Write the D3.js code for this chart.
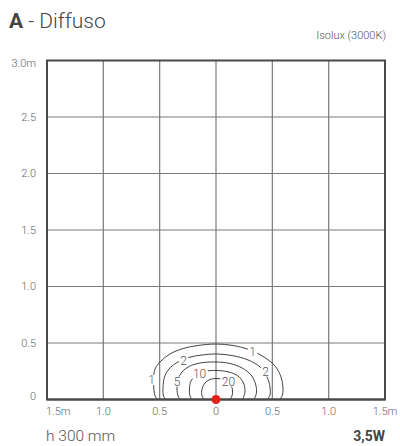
<!DOCTYPE html>
<html><head><meta charset="utf-8">
<script src="https://cdn.jsdelivr.net/npm/d3@7"></script>
<style>
html,body{margin:0;padding:0;background:#fff;}
svg{display:block;font-family:Roboto,"Liberation Sans",sans-serif;}
</style></head>
<body>
<script>
// ---- data ----
const xTicks = [-1.5, -1.0, -0.5, 0, 0.5, 1.0, 1.5];
const xTickLabels = ["1.5m", "1.0", "0.5", "0", "0.5", "1.0", "1.5m"];
const yTicks = [0, 0.5, 1.0, 1.5, 2.0, 2.5, 3.0];
const yTickLabels = ["0", "0.5", "1.0", "1.5", "2.0", "2.5", "3.0m"];
const levels = [1, 2, 5, 10, 20];
const contour1 = [[-0.515,0],[-0.541,0.031],[-0.550,0.084],[-0.555,0.173],[-0.541,0.270],[-0.488,0.341],[-0.408,0.403],[-0.293,0.451],[-0.160,0.478],[0,0.491],[0.151,0.478],[0.302,0.438],[0.426,0.376],[0.524,0.296],[0.577,0.199],[0.595,0.093],[0.590,0.040],[0.568,0]];
const contour2 = [[-0.444,0],[-0.466,0.031],[-0.470,0.111],[-0.457,0.199],[-0.417,0.270],[-0.346,0.327],[-0.240,0.372],[-0.124,0.394],[0,0.403],[0.142,0.389],[0.284,0.350],[0.391,0.288],[0.453,0.199],[0.479,0.111],[0.479,0.040],[0.457,0]];
const contour5 = [[-0.315,0],[-0.337,0.031],[-0.346,0.102],[-0.337,0.181],[-0.302,0.243],[-0.240,0.292],[-0.142,0.323],[0,0.332],[0.124,0.319],[0.231,0.279],[0.311,0.217],[0.351,0.137],[0.359,0.058],[0.337,0]];
const contour10 = [[-0.209,0],[-0.231,0.031],[-0.235,0.102],[-0.222,0.164],[-0.178,0.217],[-0.107,0.248],[0,0.257],[0.115,0.243],[0.195,0.208],[0.244,0.146],[0.257,0.066],[0.235,0]];
const contour20 = [[-0.102,0],[-0.124,0.031],[-0.124,0.093],[-0.098,0.146],[-0.053,0.177],[0,0.186],[0.071,0.177],[0.124,0.146],[0.146,0.084],[0.142,0.031],[0.120,0]];
const contourLabels = [["1",-0.571,0.173],["1",0.324,0.420],["2",-0.288,0.341],["2",0.439,0.248],["5",-0.346,0.159],["10",-0.146,0.230],["20",0.111,0.159]];
const source = [0, 0];

// ---- drawing ----
const W = 400, H = 446;
const svg = d3.select("body").append("svg").attr("width", W).attr("height", H);
const x = d3.scaleLinear().domain([-1.5, 1.5]).range([47, 385]);
const y = d3.scaleLinear().domain([0, 3]).range([399.5, 60.5]);

// grid
svg.append("g").selectAll("line.v").data(xTicks.slice(1, -1)).join("line")
  .attr("x1", d => x(d)).attr("x2", d => x(d)).attr("y1", y(3)).attr("y2", y(0))
  .attr("stroke", "#7a7a7a").attr("stroke-width", 1.2);
svg.append("g").selectAll("line.h").data(yTicks.slice(1, -1)).join("line")
  .attr("x1", x(-1.5)).attr("x2", x(1.5)).attr("y1", d => y(d)).attr("y2", d => y(d))
  .attr("stroke", "#7a7a7a").attr("stroke-width", 1.2);
// frame
svg.append("rect").attr("x", x(-1.5)).attr("y", y(3))
  .attr("width", x(1.5) - x(-1.5)).attr("height", y(0) - y(3))
  .attr("fill", "none").attr("stroke", "#4a4a4a").attr("stroke-width", 2);

// contours
const line = d3.line().x(d => x(d[0])).y(d => y(d[1])).curve(d3.curveCatmullRom.alpha(0.5));
const contours = [contour1, contour2, contour5, contour10, contour20];
svg.append("g").selectAll("path").data(contours).join("path")
  .attr("d", line).attr("fill", "none").attr("stroke", "#444").attr("stroke-width", 1);

// contour labels with white backing
const lg = svg.append("g").selectAll("g").data(contourLabels).join("g")
  .attr("transform", d => `translate(${x(d[1])},${y(d[2])})`);
lg.append("rect").attr("x", d => -d[0].length * 3.6 - 1).attr("y", -5)
  .attr("width", d => d[0].length * 7.2 + 2).attr("height", 10).attr("fill", "#fff");
lg.append("text").attr("dy", "0.36em")
  .attr("text-anchor", "middle").attr("font-size", 12).attr("font-weight", 300)
  .attr("fill", "#555").text(d => d[0]);

// frame bottom redraw (over contour ends)
svg.append("line").attr("x1", x(-1.5)).attr("x2", x(1.5)).attr("y1", y(0)).attr("y2", y(0))
  .attr("stroke", "#4a4a4a").attr("stroke-width", 2);

// source dot
svg.append("circle").attr("cx", x(source[0])).attr("cy", y(source[1])).attr("r", 4.5).attr("fill", "#e2231a");

// y tick labels
svg.append("g").selectAll("text").data(yTicks).join("text")
  .attr("x", 36).attr("y", (d, i) => y(d) + (i === yTicks.length - 1 ? 2.5 : (i === 0 ? -3 : 0)))
  .attr("dy", "0.35em").attr("text-anchor", "end").attr("font-size", 11).attr("font-weight", 300)
  .attr("fill", "#666").text((d, i) => yTickLabels[i]);

// x tick labels
svg.append("g").selectAll("text").data(xTicks).join("text")
  .attr("x", (d, i) => i === 0 ? x(d) - 1 : x(d))
  .attr("y", 415).attr("text-anchor", (d, i) => i === 0 ? "start" : "middle")
  .attr("font-size", 11).attr("font-weight", 300).attr("fill", "#666")
  .text((d, i) => xTickLabels[i]);

// titles
const t = svg.append("text").attr("x", 9).attr("y", 28).attr("font-size", 21).attr("fill", "#444");
t.append("tspan").attr("font-weight", 700).text("A");
t.append("tspan").attr("font-weight", 300).text(" - Diffuso");
svg.append("text").attr("x", 386).attr("y", 39).attr("text-anchor", "end")
  .attr("font-size", 11).attr("font-weight", 300).attr("fill", "#555").text("Isolux (3000K)");
svg.append("text").attr("x", 46).attr("y", 441).attr("font-size", 15.5).attr("font-weight", 300)
  .attr("fill", "#555").text("h 300 mm");
svg.append("text").attr("x", 385).attr("y", 441).attr("text-anchor", "end")
  .attr("font-size", 14).attr("font-weight", 700).attr("fill", "#444").text("3,5W");
</script>
</body></html>
